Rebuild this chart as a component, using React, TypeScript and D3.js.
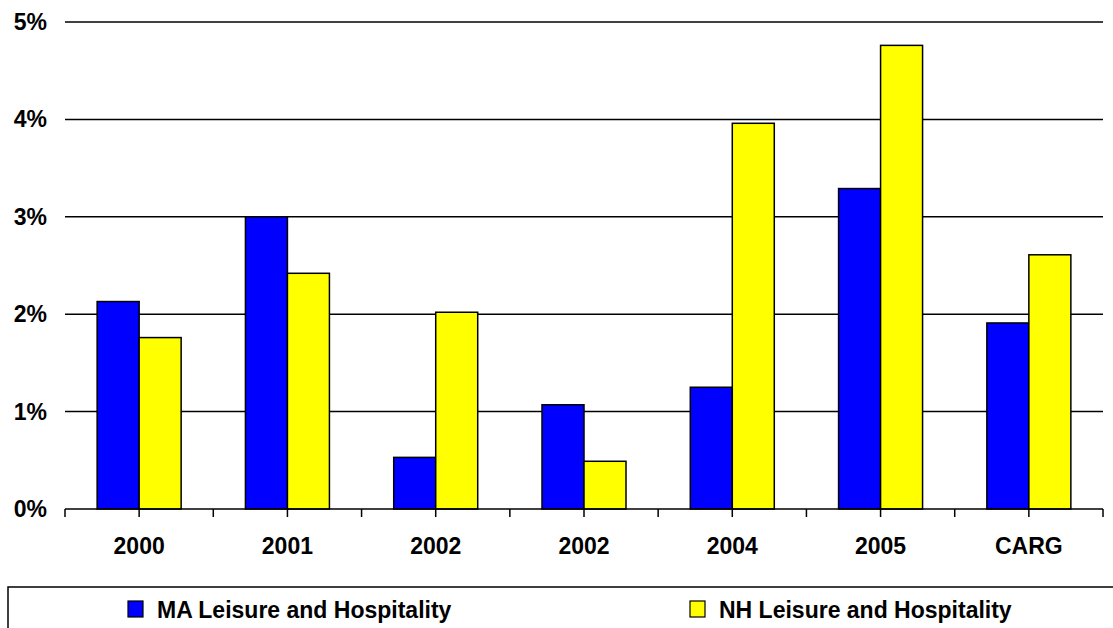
import React from "react";
import * as d3 from "d3";

const categories = ["2000", "2001", "2002", "2002", "2004", "2005", "CARG"];
const maValues = [2.13, 3.0, 0.53, 1.07, 1.25, 3.29, 1.91];
const nhValues = [1.76, 2.42, 2.02, 0.49, 3.96, 4.76, 2.61];
const yTicks = [0, 1, 2, 3, 4, 5];
const seriesNames = ["MA Leisure and Hospitality", "NH Leisure and Hospitality"];
const seriesColors = ["#0000FF", "#FFFF00"];

export default function App() {
  const W = 1113, H = 628;
  const left = 65, right = 1103, top = 22, bottom = 509;
  const x = d3.scaleBand<number>().domain(d3.range(categories.length)).range([left, right]);
  const y = d3.scaleLinear().domain([0, 5]).range([bottom, top]);
  const barW = 42;
  const font = "'Liberation Sans', Arial, sans-serif";
  const ticksX: number[] = [];
  for (let i = 0; i <= categories.length * 2; i++) ticksX.push(left + (i * x.bandwidth()) / 2);
  const series = [maValues, nhValues];
  return (
    <svg width={W} height={H} style={{ position: "absolute", left: 0, top: 0, background: "#fff" }}>
      {yTicks.map((t) => (
        <g key={t}>
          {t > 0 && <line x1={left} x2={right} y1={y(t)} y2={y(t)} stroke="#000" strokeWidth={1.5} />}
          <text x={47} y={y(t)} dy="0.35em" textAnchor="end" fontFamily={font} fontWeight="bold" fontSize={23}>
            {t}%
          </text>
        </g>
      ))}
      {series.map((vals, s) =>
        vals.map((v, i) => {
          const cx = (x(i) as number) + x.bandwidth() / 2;
          const bx = cx - barW + s * barW;
          return (
            <rect key={s + "-" + i} x={bx} y={y(v)} width={barW} height={y(0) - y(v)}
              fill={seriesColors[s]} stroke="#000" strokeWidth={1.5} />
          );
        })
      )}
      <line x1={left} x2={right} y1={bottom} y2={bottom} stroke="#000" strokeWidth={1.5} />
      {ticksX.map((tx, i) => (
        <line key={i} x1={tx} x2={tx} y1={bottom} y2={bottom + 8} stroke="#000" strokeWidth={1.5} />
      ))}
      {categories.map((c, i) => (
        <text key={i} x={(x(i) as number) + x.bandwidth() / 2} y={554} textAnchor="middle"
          fontFamily={font} fontWeight="bold" fontSize={23}>
          {c}
        </text>
      ))}
      <rect x={8} y={587} width={1120} height={60} fill="none" stroke="#000" strokeWidth={1.5} />
      {seriesNames.map((n, s) => {
        const lx = s === 0 ? 128 : 690;
        return (
          <g key={n}>
            <rect x={lx} y={601} width={15} height={16} fill={seriesColors[s]} stroke="#000" strokeWidth={1.2} />
            <text x={lx + 29} y={618} fontFamily={font} fontWeight="bold" fontSize={23}>
              {n}
            </text>
          </g>
        );
      })}
    </svg>
  );
}
